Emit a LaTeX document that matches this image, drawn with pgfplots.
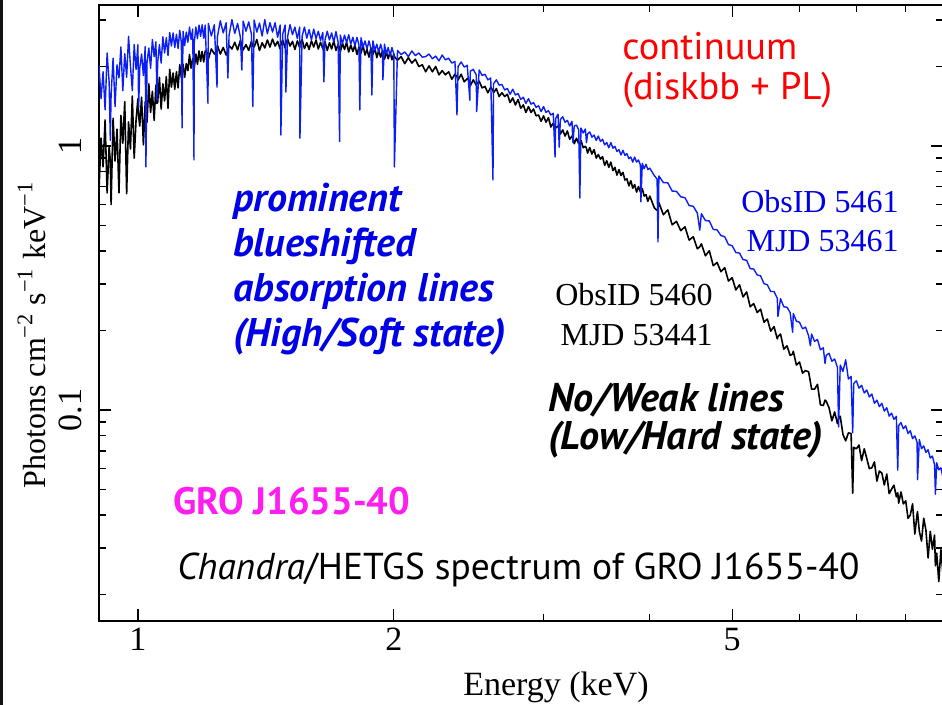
\documentclass[border=0pt]{standalone}
\usepackage{fontspec}
\setmainfont{Liberation Serif}
\newfontfamily\annfont{PT Sans}
\usepackage{pgfplots}
\pgfplotsset{compat=1.18}
\usepackage{pgfplotstable}
\definecolor{specblue}{RGB}{10,30,245}
\definecolor{txtblue}{RGB}{0,0,230}
\definecolor{magen}{RGB}{255,30,240}
\definecolor{txtred}{RGB}{255,0,0}

\pgfplotstableread{
E k b
0.900 0.681 2.02
0.905 1.071 1.51
0.910 0.834 1.91
0.915 1.255 1.37
0.920 0.664 2.25
0.925 0.993 1.75
0.928 0.88 1.05
0.930 0.60 1.56
0.935 1.273 2.15
0.940 0.877 1.41
0.945 1.157 2.03
0.950 0.665 1.81
0.955 1.306 2.37
0.960 1.024 1.62
0.965 1.472 2.24
0.970 0.66 1.82
0.975 1.233 2.60
0.980 0.974 2.01
0.985 1.546 1.62
0.990 0.899 2.42
0.995 1.25 1.95
1.000 1.51 2.42
1.002 1.30 1.40
1.005 1.19 1.97
1.010 1.53 2.23
1.015 1.01 1.85
1.020 1.47 2.38
1.022 1.35 0.833
1.025 1.23 2.07
1.030 1.72 2.35
1.035 1.34 1.97
1.040 1.61 2.53
1.045 1.25 2.18
1.050 1.70 2.48
1.053 1.45 1.49
1.055 1.46 2.07
1.060 1.82 2.42
1.065 1.38 2.06
1.070 1.72 2.59
1.075 1.48 2.25
1.080 1.83 2.57
1.085 1.39 2.20
1.090 1.95 2.69
1.095 1.67 2.39
1.100 1.89 2.68
1.105 1.64 2.36
1.110 1.91 2.65
1.115 1.66 2.34
1.120 2.03 2.74
1.125 1.81 2.46
1.127 1.90 1.17
1.130 2.04 2.72
1.135 1.82 2.40
1.140 2.05 2.70
1.145 1.93 2.47
1.150 2.22 2.82
1.155 1.97 2.53
1.160 2.14 2.77
1.164 2.05 0.885
1.165 1.98 2.46
1.170 2.23 2.82
1.175 2.04 2.55
1.180 2.29 2.87
1.185 2.09 2.60
1.190 2.28 2.88
1.195 2.08 2.56
1.200 2.29 2.87
1.209 2.25 1.45
1.21 2.13 2.91
1.22 2.33 2.61
1.23 2.23 2.88
1.239 2.30 1.67
1.24 2.41 2.58
1.25 2.23 2.98
1.26 2.36 2.68
1.27 2.21 2.93
1.276 2.30 1.81
1.28 2.40 2.62
1.29 2.33 3.01
1.30 2.47 2.67
1.31 2.31 2.91
1.32 2.51 2.58
1.325 2.40 1.94
1.33 2.31 2.97
1.34 2.42 2.72
1.35 2.30 2.95
1.36 2.49 2.65
1.365 2.38 1.41
1.37 2.37 3.00
1.38 2.53 2.70
1.39 2.30 2.92
1.40 2.46 2.61
1.41 2.35 3.01
1.42 2.52 2.66
1.43 2.37 2.93
1.44 2.54 2.70
1.45 2.39 2.93
1.46 2.49 2.58
1.47 2.33 2.87
1.473 2.42 1.10
1.48 2.52 2.64
1.49 2.35 2.87
1.493 2.45 1.60
1.50 2.54 2.60
1.51 2.39 2.88
1.52 2.49 2.64
1.53 2.32 2.82
1.54 2.50 2.55
1.55 2.36 2.82
1.551 2.44 1.07
1.56 2.53 2.60
1.57 2.34 2.82
1.58 2.46 2.56
1.59 2.32 2.76
1.60 2.50 2.52
1.61 2.37 2.77
1.62 2.52 2.55
1.63 2.33 2.72
1.64 2.47 2.51
1.65 2.34 2.69
1.655 2.41 1.75
1.66 2.48 2.52
1.67 2.30 2.72
1.68 2.46 2.52
1.69 2.33 2.68
1.70 2.50 2.47
1.71 2.30 2.71
1.72 2.42 2.47
1.727 2.35 1.04
1.73 2.27 2.63
1.74 2.45 2.44
1.75 2.32 2.63
1.76 2.47 2.46
1.77 2.27 2.64
1.78 2.41 2.43
1.79 2.28 2.58
1.80 2.41 2.39
1.81 2.22 2.58
1.82 2.37 2.41
1.824 2.30 1.37
1.83 2.25 2.57
1.84 2.40 2.37
1.85 2.21 2.50
1.86 2.32 2.33
1.87 2.17 2.50
1.88 2.35 2.34
1.885 2.25 1.56
1.89 2.22 2.50
1.90 2.35 2.30
1.91 2.16 2.43
1.92 2.30 2.26
1.93 2.17 2.43
1.94 2.30 2.28
1.942 2.22 1.78
1.95 2.13 2.43
1.96 2.27 2.23
1.97 2.14 2.36
1.98 2.27 2.19
1.99 2.12 2.36
2.00 2.23 2.23
2.003 2.18 0.833
2.02 2.11 2.30
2.04 2.18 2.22
2.06 2.05 2.27
2.08 2.16 2.18
2.10 2.06 2.29
2.12 2.13 2.20
2.14 2.00 2.25
2.16 2.03 2.17
2.18 1.91 2.18
2.20 2.01 2.23
2.22 1.91 2.14
2.24 2.00 2.19
2.26 1.86 2.10
2.28 1.93 2.21
2.30 1.86 2.12
2.32 1.91 2.15
2.34 1.79 2.06
2.36 1.87 2.09
2.373 1.83 1.31
2.38 1.78 2.00
2.40 1.87 2.08
2.42 1.75 1.99
2.44 1.80 2.02
2.457 1.76 1.49
2.46 1.69 1.92
2.48 1.78 1.95
2.50 1.70 1.86
2.503 1.72 1.35
2.52 1.76 1.94
2.54 1.66 1.85
2.56 1.68 1.87
2.58 1.59 1.78
2.60 1.67 1.81
2.616 1.62 0.743
2.62 1.59 1.72
2.64 1.65 1.78
2.66 1.54 1.70
2.68 1.59 1.71
2.70 1.54 1.63
2.72 1.57 1.65
2.74 1.46 1.57
2.76 1.52 1.64
2.78 1.43 1.56
2.80 1.50 1.58
2.82 1.39 1.50
2.84 1.43 1.53
2.86 1.34 1.45
2.88 1.41 1.51
2.90 1.34 1.44
2.92 1.38 1.46
2.94 1.30 1.40
2.96 1.31 1.42
2.98 1.24 1.35
3.00 1.30 1.41
3.02 1.23 1.34
3.04 1.28 1.36
3.06 1.18 1.31
3.08 1.22 1.33
3.095 1.18 0.908
3.10 1.17 1.27
3.12 1.19 1.32
3.13 1.16 0.99
3.14 1.11 1.26
3.16 1.15 1.29
3.18 1.09 1.23
3.20 1.14 1.25
3.22 1.06 1.19
3.24 1.09 1.24
3.249 1.07 1.03
3.26 1.02 1.19
3.28 1.07 1.20
3.30 1.02 1.15
3.31 1.02 0.635
3.32 1.05 1.17
3.34 0.985 1.12
3.36 0.997 1.16
3.37 0.98 1.03
3.38 0.940 1.11
3.40 0.985 1.13
3.42 0.932 1.08
3.44 0.969 1.10
3.46 0.900 1.05
3.48 0.928 1.09
3.50 0.892 1.04
3.52 0.911 1.06
3.54 0.845 1.01
3.56 0.879 1.03
3.58 0.830 0.984
3.60 0.869 1.03
3.62 0.806 0.981
3.64 0.830 0.997
3.66 0.776 0.953
3.68 0.813 0.968
3.70 0.773 0.924
3.72 0.795 0.963
3.74 0.743 0.921
3.76 0.751 0.936
3.78 0.706 0.895
3.80 0.739 0.908
3.82 0.692 0.869
3.84 0.714 0.908
3.86 0.669 0.869
3.88 0.702 0.885
3.90 0.669 0.847
3.905 0.672 0.614
3.92 0.689 0.860
3.94 0.646 0.820
3.96 0.654 0.853
3.98 0.617 0.814
4.00 0.646 0.824
4.05 0.583 0.772
4.08 0.57 0.75
4.09 0.58 0.433
4.10 0.610 0.770
4.15 0.549 0.727
4.20 0.573 0.725
4.25 0.503 0.675
4.30 0.518 0.673
4.35 0.478 0.642
4.40 0.494 0.637
4.45 0.440 0.595
4.50 0.453 0.591
4.55 0.408 0.557
4.58 0.415 0.48
4.60 0.426 0.554
4.65 0.384 0.522
4.70 0.401 0.520
4.75 0.352 0.483
4.80 0.362 0.481
4.85 0.334 0.458
4.90 0.346 0.453
4.95 0.308 0.423
5.00 0.317 0.419
5.05 0.285 0.395
5.10 0.298 0.393
5.15 0.268 0.371
5.20 0.280 0.369
5.25 0.246 0.343
5.30 0.253 0.342
5.35 0.234 0.325
5.40 0.241 0.322
5.45 0.215 0.301
5.50 0.221 0.298
5.55 0.199 0.281
5.60 0.207 0.281
5.65 0.186 0.265
5.66 0.190 0.226
5.70 0.194 0.264
5.75 0.170 0.246
5.80 0.175 0.245
5.85 0.161 0.234
5.89 0.163 0.197
5.90 0.167 0.232
5.95 0.148 0.217
6.00 0.152 0.215
6.05 0.138 0.203
6.10 0.141 0.206
6.15 0.1395 0.191
6.18 0.128 0.175
6.20 0.120 0.194
6.25 0.120 0.182
6.30 0.125 0.185
6.35 0.1046 0.169
6.40 0.104 0.172
6.43 0.109 0.150
6.45 0.108 0.161
6.50 0.102 0.164
6.55 0.0910 0.153
6.60 0.0983 0.156
6.65 0.0888 0.145
6.67 0.0930 0.0863
6.70 0.0947 0.148
6.75 0.0807 0.140
6.80 0.0764 0.155
6.85 0.0819 0.131
6.90 0.0815 0.134
6.93 0.0484 0.082
6.95 0.0722 0.126
7.00 0.0713 0.129
7.05 0.0737 0.121
7.10 0.0643 0.124
7.15 0.0713 0.116
7.20 0.0655 0.119
7.25 0.0600 0.112
7.30 0.0604 0.115
7.35 0.0636 0.106
7.40 0.0538 0.109
7.45 0.0587 0.103
7.50 0.0577 0.106
7.55 0.0520 0.099
7.60 0.0572 0.102
7.65 0.0482 0.0948
7.70 0.0501 0.0973
7.75 0.0519 0.0922
7.80 0.0469 0.0946
7.83 0.0486 0.0592
7.85 0.0444 0.0873
7.90 0.0489 0.0896
7.95 0.0441 0.0849
8.00 0.0453 0.0871
8.05 0.0389 0.0815
8.10 0.0400 0.0835
8.15 0.0441 0.0779
8.20 0.0339 0.0798
8.25 0.0403 0.0755
8.26 0.0412 0.0545
8.30 0.0347 0.0773
8.35 0.0319 0.0713
8.40 0.0389 0.0731
8.45 0.0351 0.0691
8.50 0.0275 0.0707
8.55 0.0347 0.0658
8.60 0.0297 0.0669
8.65 0.0336 0.0620
8.67 0.0257 0.048
8.70 0.0287 0.0631
8.75 0.0224 0.0593
8.80 0.0296 0.0604
8.85 0.0239 0.0553
}\spec

\begin{document}
\begin{tikzpicture}
\begin{axis}[
  at={(0pt,0pt)}, anchor=south west,
  scale only axis, width=422pt, height=308pt,
  xmode=log, ymode=log,
  xmin=0.9, xmax=8.85, ymin=0.01588, ymax=3.42,
  xtick={1,2,5}, xticklabels={1,2,5},
  minor xtick={3,4,6,7,8},
  ytick={0.1,1}, yticklabels={0.1,1},
  minor ytick={0.02,0.03,0.04,0.05,0.06,0.07,0.08,0.09,0.2,0.3,0.4,0.5,0.6,0.7,0.8,0.9,2,3},
  tick align=inside,
  major tick length=6pt, minor tick length=3.5pt,
  every tick/.style={black, line width=0.6pt},
  axis line style={black, line width=0.7pt},
  tick label style={font=\fontsize{17}{20}\selectfont},
  xticklabel style={inner sep=3.5pt},
  yticklabel style={rotate=90, anchor=south, inner sep=8.5pt},
  clip=true,
]
\addplot[black, line width=0.8pt, no markers, line join=round] table[x=E, y=k] {\spec};
\addplot[specblue, line width=0.7pt, no markers, line join=round] table[x=E, y=b] {\spec};
\end{axis}
% axis labels
\node[anchor=base, font=\fontsize{17}{20}\selectfont] at (228.5pt,-37.5pt) {Energy (keV)};
\node[anchor=base, rotate=90, font=\fontsize{16}{19}\selectfont] at (-27pt,143pt) {Photons cm\textsuperscript{−2} s\textsuperscript{−1} keV\textsuperscript{−1}};
% annotations
\node[anchor=base west, text=txtred, font=\annfont\fontsize{19.2}{22}\selectfont, inner sep=0pt] at (261.5pt,280.5pt) {continuum};
\node[anchor=base west, text=txtred, font=\annfont\fontsize{19.2}{22}\selectfont, inner sep=0pt] at (261.5pt,260.5pt) {(diskbb + PL)};
\node[anchor=base west, text=txtblue, font=\annfont\bfseries\itshape\fontsize{20}{22}\selectfont, inner sep=0pt] at (67pt,204.5pt) {prominent};
\node[anchor=base west, text=txtblue, font=\annfont\bfseries\itshape\fontsize{20}{22}\selectfont, inner sep=0pt] at (67pt,182pt) {blueshifted};
\node[anchor=base west, text=txtblue, font=\annfont\bfseries\itshape\fontsize{20}{22}\selectfont, inner sep=0pt] at (67pt,159.5pt) {absorption lines};
\node[anchor=base west, text=txtblue, font=\annfont\bfseries\itshape\fontsize{20}{22}\selectfont, inner sep=0pt] at (67pt,137pt) {(High/Soft state)};
\node[anchor=base east, text=txtblue, font=\fontsize{16}{19}\selectfont, inner sep=0pt] at (400pt,204pt) {ObsID 5461};
\node[anchor=base east, text=txtblue, font=\fontsize{16}{19}\selectfont, inner sep=0pt] at (400pt,184.5pt) {MJD 53461};
\node[anchor=base east, text=black, font=\fontsize{16}{19}\selectfont, inner sep=0pt] at (307pt,157.5pt) {ObsID 5460};
\node[anchor=base east, text=black, font=\fontsize{16}{19}\selectfont, inner sep=0pt] at (307pt,137.5pt) {MJD 53441};
\node[anchor=base west, text=black, font=\annfont\bfseries\itshape\fontsize{20}{22}\selectfont, inner sep=0pt] at (224.5pt,104.5pt) {No/Weak lines};
\node[anchor=base west, text=black, font=\annfont\bfseries\itshape\fontsize{20}{22}\selectfont, inner sep=0pt] at (224.5pt,85.5pt) {(Low/Hard state)};
\node[anchor=base west, text=magen, font=\annfont\bfseries\fontsize{19.1}{22}\selectfont, inner sep=0pt] at (37pt,53pt) {GRO J1655-40};
\node[anchor=base west, text=black, font=\annfont\fontsize{18.7}{22}\selectfont, inner sep=0pt] at (39pt,20.5pt) {\textit{Chandra}/HETGS spectrum of GRO J1655-40};
% left dark strip of the screenshot
\fill[black!93] (-49.5pt,-42pt) rectangle (-48pt,310.5pt);
\pgfresetboundingbox
\useasboundingbox (-49.5pt,-42pt) rectangle (421.5pt,310.5pt);
\end{tikzpicture}
\end{document}
